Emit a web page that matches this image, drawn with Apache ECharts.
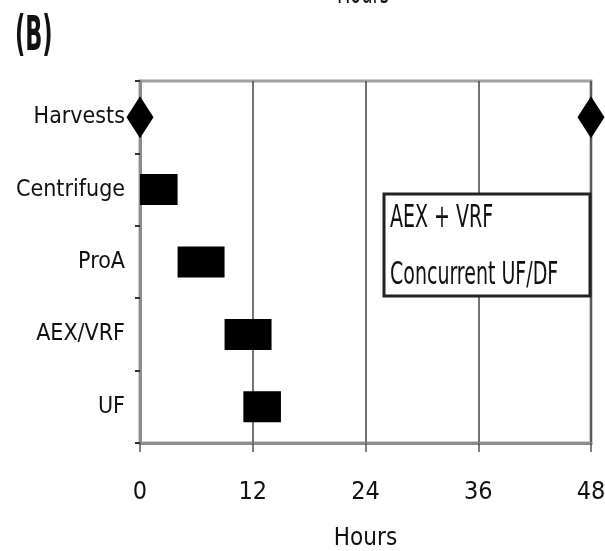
<!DOCTYPE html>
<html>
<head>
<meta charset="utf-8">
<script src="https://cdn.jsdelivr.net/npm/echarts@6/dist/echarts.min.js"></script>
<style>
  html, body { margin: 0; padding: 0; background: #fff; }
  #chart { width: 605px; height: 551px; }
</style>
</head>
<body>
<div id="chart"></div>
<script>
const FONT = "'DejaVu Sans Condensed', 'Liberation Sans Narrow', sans-serif";

// steps of the process (top to bottom)
const steps = ["Harvests", "Centrifuge", "ProA", "AEX/VRF", "UF"];
// start / end hours of each step bar (Harvests drawn as diamonds instead)
const stepStart = [null, 0, 4, 9, 11];
const stepEnd = [null, 4, 9, 14, 15];
// harvest time points in hours
const harvestHours = [0, 48];
const hourTicks = [0, 12, 24, 36, 48];
const boxLines = ["AEX + VRF", "Concurrent UF/DF"];

const chart = echarts.init(document.getElementById("chart"));

// narrow, tall text like the original figure font
function narrowText(text, x, y, size, sx, extra) {
  return Object.assign({
    type: "text", x: x, y: y, scaleX: sx, z: 11,
    style: {
      text: text, fontFamily: FONT, fontSize: size, fill: "#111",
      align: "left", verticalAlign: "middle"
    }
  }, extra || {});
}

const option = {
  backgroundColor: "#fff",
  animation: false,
  grid: {
    left: 140, right: 14, top: 81, bottom: 108,
    outerBoundsMode: "none",
    containLabel: false,
    show: true, borderColor: "#a0a0a0", borderWidth: 3
  },
  xAxis: {
    type: "value",
    min: hourTicks[0],
    max: hourTicks[hourTicks.length - 1],
    interval: 12,
    name: "Hours",
    nameLocation: "middle",
    nameGap: 84,
    nameTextStyle: { fontFamily: FONT, fontSize: 24, color: "#111" },
    axisLine: { show: true, lineStyle: { color: "#8c8c8c", width: 3 } },
    axisTick: { show: true, length: 9, lineStyle: { color: "#555", width: 1.5 } },
    axisLabel: { margin: 37, fontFamily: FONT, fontSize: 25, color: "#111" },
    splitLine: { show: true, lineStyle: { color: "#444", width: 1.5 } }
  },
  yAxis: {
    type: "category",
    data: steps,
    inverse: true,
    axisLine: { show: true, lineStyle: { color: "#8c8c8c", width: 3 } },
    axisTick: { show: true, length: 5, lineStyle: { color: "#333", width: 2 } },
    axisLabel: { margin: 15, fontFamily: FONT, fontSize: 23, color: "#111" },
    splitLine: { show: false }
  },
  series: [
    {
      type: "bar",
      stack: "gantt",
      barWidth: 31,
      itemStyle: { color: "transparent" },
      data: stepStart.map(v => (v == null ? "-" : v)),
      silent: true
    },
    {
      type: "bar",
      stack: "gantt",
      barWidth: 31,
      itemStyle: { color: "#000" },
      data: stepEnd.map((v, i) => (v == null ? "-" : v - stepStart[i]))
    },
    {
      type: "scatter",
      symbol: "diamond",
      symbolSize: [27, 42],
      clip: false,
      itemStyle: { color: "#000", opacity: 1 },
      data: harvestHours.map(h => [h, steps[0]]),
      z: 5
    }
  ],
  graphic: [
    narrowText("(B)", 15, 38, 48, 0.52, {
      style: { text: "(B)", font: "bold 48px " + FONT, fill: "#111", align: "left", verticalAlign: "middle" }
    }),
    narrowText("Hours", 363, 10, 30, 0.66, {
      style: { text: "Hours", fontFamily: FONT, fontSize: 30, fill: "#111", align: "center", verticalAlign: "bottom" }
    }),
    {
      type: "rect", shape: { x: 384, y: 194, width: 206, height: 102 },
      style: { fill: "#fff", stroke: "#222", lineWidth: 3 }, z: 10
    },
    narrowText(boxLines[0], 390, 219, 32, 0.66),
    narrowText(boxLines[1], 390, 276, 32, 0.66)
  ]
};

chart.setOption(option);
</script>
</body>
</html>
